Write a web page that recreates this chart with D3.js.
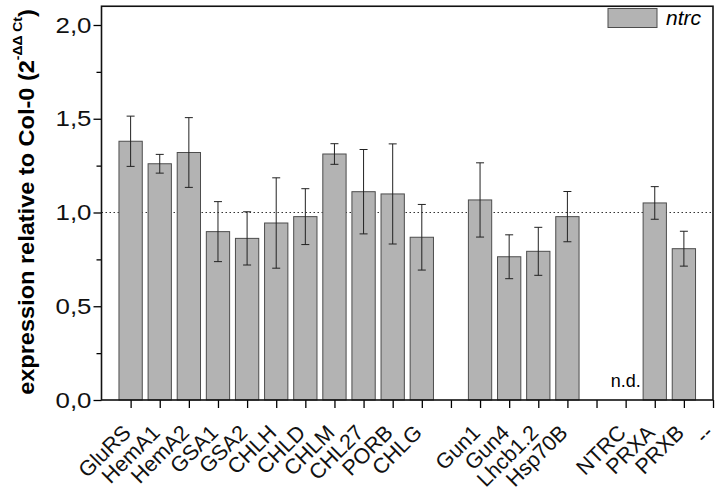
<!DOCTYPE html>
<html>
<head>
<meta charset="utf-8">
<script src="https://cdn.jsdelivr.net/npm/d3@7"></script>
<style>
    body { margin: 0; background: #fff; }
    text { font-family: "Liberation Sans", Arial, sans-serif; }
</style>
</head>
<body>
<div id="main"></div>
<script>
// genes along the x axis, blanks are group gaps
const categories = ["GluRS", "HemA1", "HemA2", "GSA1", "GSA2", "CHLH", "CHLD", "CHLM", "CHL27", "PORB", "CHLG", "",
    "Gun1", "Gun4", "Lhcb1.2", "Hsp70B", "", "NTRC", "PRXA", "PRXB", "--"];
// ntrc expression relative to Col-0
const means = [1.38, 1.26, 1.32, 0.898, 0.862, 0.944, 0.978, 1.312, 1.111, 1.099, 0.868, null,
    1.067, 0.764, 0.793, 0.978, null, null, 1.051, 0.807, null];
const errors = [0.134, 0.05, 0.186, 0.16, 0.142, 0.241, 0.149, 0.055, 0.225, 0.267, 0.175, null,
    0.198, 0.117, 0.128, 0.134, null, null, 0.087, 0.093, null];
const notDetected = ["NTRC"];
const yTicks = [0, 0.5, 1.0, 1.5, 2.0];
const yMinorTicks = [0.25, 0.75, 1.25, 1.75];

const W = 717, H = 493;
const margin = {top: 6.25, right: 4, bottom: 93, left: 101.5};
const width = W - margin.left - margin.right;
const height = H - margin.top - margin.bottom;

const svg = d3.select('#main').append('svg')
    .attr('width', W)
    .attr('height', H);
const g = svg.append('g')
    .attr('transform', 'translate(' + margin.left + ',' + margin.top + ')');

const x = d3.scaleLinear().domain([0, categories.length]).range([0, width]);
const y = d3.scaleLinear().domain([0, 2.1]).range([height, 0]);
const step = x(1) - x(0);
const barW = step * 0.8;

// reference line at 1
g.append('line')
    .attr('x1', 0).attr('x2', width)
    .attr('y1', y(1)).attr('y2', y(1))
    .attr('stroke', '#333')
    .attr('stroke-width', 1)
    .attr('stroke-dasharray', '1.5,2.5');

const data = categories.map(function (c, i) {
    return {name: c, pos: i + 1, mean: means[i], err: errors[i]};
}).filter(function (d) { return d.mean != null; });

g.selectAll('.bar')
    .data(data)
    .enter()
    .append('rect')
    .attr('class', 'bar')
    .attr('x', function (d) { return x(d.pos) - barW / 2; })
    .attr('width', barW)
    .attr('y', function (d) { return y(d.mean); })
    .attr('height', function (d) { return y(0) - y(d.mean); })
    .attr('fill', '#b3b3b3')
    .attr('stroke', '#4d4d4d')
    .attr('stroke-width', 1);

const eb = g.selectAll('.err')
    .data(data)
    .enter()
    .append('g')
    .attr('class', 'err')
    .attr('stroke', '#222')
    .attr('stroke-width', 1);
eb.append('line')
    .attr('x1', function (d) { return x(d.pos); })
    .attr('x2', function (d) { return x(d.pos); })
    .attr('y1', function (d) { return y(d.mean + d.err); })
    .attr('y2', function (d) { return y(d.mean - d.err); });
[1, -1].forEach(function (s) {
    eb.append('line')
        .attr('x1', function (d) { return x(d.pos) - 4; })
        .attr('x2', function (d) { return x(d.pos) + 4; })
        .attr('y1', function (d) { return y(d.mean + s * d.err); })
        .attr('y2', function (d) { return y(d.mean + s * d.err); });
});

// n.d. marks
notDetected.forEach(function (n) {
    g.append('text')
        .attr('x', x(categories.indexOf(n) + 1))
        .attr('y', y(0) - 13)
        .attr('text-anchor', 'middle')
        .attr('font-size', 18)
        .text('n.d.');
});

// y axis (labels a bit wider than Arial, like the original)
const sx = 1.15;
const yAxis = g.append('g')
    .call(d3.axisLeft(y).tickValues(yTicks).tickSize(8).tickPadding(3)
        .tickFormat(function (d) { return d3.format('.1f')(d).replace('.', ','); }));
yAxis.select('.domain').remove();
yAxis.selectAll('text')
    .attr('font-size', 22.5)
    .attr('fill', '#111')
    .attr('x', -10 / sx)
    .attr('transform', 'scale(' + sx + ',1)');
yAxis.selectAll('line').attr('stroke-width', 1.3);
const yMinor = g.append('g')
    .call(d3.axisLeft(y).tickValues(yMinorTicks).tickSize(5).tickFormat(''));
yMinor.select('.domain').remove();
yMinor.selectAll('line').attr('stroke-width', 1.3);

// x axis
const xAxis = g.append('g')
    .attr('transform', 'translate(0,' + height + ')')
    .call(d3.axisBottom(x).tickValues(d3.range(1, categories.length + 1)).tickSize(8)
        .tickFormat(function (d) { return categories[d - 1]; }));
xAxis.select('.domain').remove();
xAxis.selectAll('line').attr('stroke-width', 1.3);
xAxis.selectAll('text')
    .attr('font-size', 21.5)
    .attr('fill', '#111')
    .attr('text-anchor', 'end')
    .attr('dy', null)
    .attr('y', null)
    .attr('transform', 'translate(1,34) rotate(-45)');

// frame
g.append('rect')
    .attr('x', 0).attr('y', 0)
    .attr('width', width).attr('height', height)
    .attr('fill', 'none')
    .attr('stroke', '#111')
    .attr('stroke-width', 1.6);

// legend
svg.append('rect')
    .attr('x', 608).attr('y', 8.5)
    .attr('width', 49).attr('height', 19)
    .attr('fill', '#b3b3b3')
    .attr('stroke', '#4d4d4d');
svg.append('text')
    .attr('x', 666).attr('y', 25)
    .attr('font-size', 21)
    .attr('font-style', 'italic')
    .text('ntrc');

// y title
const yt = svg.append('text')
    .attr('transform', 'translate(34,202) rotate(-90) scale(1.07,1)')
    .attr('text-anchor', 'middle')
    .attr('font-size', 22)
    .attr('font-weight', 'bold');
yt.append('tspan').text('expression relative to Col-0 (2');
yt.append('tspan').attr('font-size', 13).attr('dy', -12).text('-ΔΔ Ct');
yt.append('tspan').attr('dy', 12).text(')');
</script>
</body>
</html>
